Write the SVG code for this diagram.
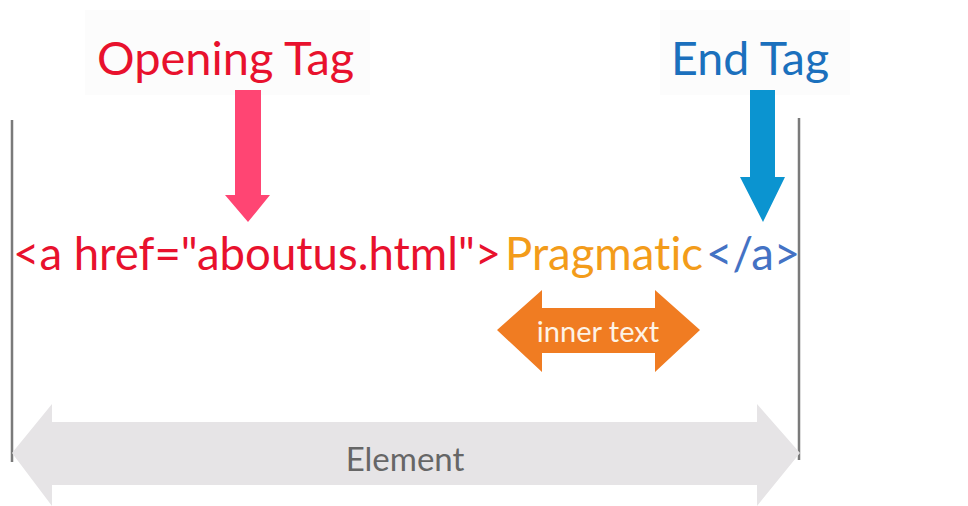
<svg xmlns="http://www.w3.org/2000/svg" width="968" height="506" viewBox="0 0 968 506">
<style>
text{font-family:Lato,"Open Sans","Liberation Sans",sans-serif;font-variant-ligatures:none}
.code{font-size:45.5px}
.bg{fill:#fcfcfc}
.vline{stroke:#7a7a7a;stroke-width:2.5}
</style>
<rect width="968" height="506" fill="#ffffff"/>
<rect class="bg" x="85" y="10" width="285" height="85"/>
<rect class="bg" x="660" y="10" width="190" height="85"/>
<g id="opening-tag-label"><text x="97" y="75" font-size="47" fill="#e8112d">Opening Tag</text></g>
<g id="end-tag-label"><text x="671" y="75" font-size="46.5" fill="#1b70bd">End Tag</text></g>
<g id="code">
<text class="code" x="13" y="270" fill="#e8112d">&lt;a href="aboutus.html"&gt;</text>
<text class="code" x="505" y="270" fill="#f39c1a">Pragmatic</text>
<text class="code" x="706" y="270" fill="#4472c4">&lt;/a&gt;</text>
</g>
<g id="connectors">
<line class="vline" x1="12" y1="120" x2="12" y2="462"/>
<line class="vline" x1="799" y1="118" x2="799" y2="460"/>
<polygon fill="#ff4573" points="235,90 261,90 261,195 270,195 248,222 225,195 235,195"/>
<polygon fill="#0b94d0" points="750,90 775,90 775,177 785,177 763,222 740,177 750,177"/>
</g>
<g id="inner-text">
<polygon fill="#f07c22" points="497,330 542,290 542,308 655,308 655,290 700,330 655,372 655,353 542,353 542,372"/>
<text x="598" y="342" font-size="29" fill="#fdf3e6" text-anchor="middle">inner text</text>
</g>
<g id="element">
<polygon fill="#e6e4e6" points="12,453 52,404 52,422 757,422 757,404 800,453 757,506 757,485 52,485 52,506"/>
<text x="405" y="471" font-size="33" fill="#666" text-anchor="middle">Element</text>
</g>
</svg>
